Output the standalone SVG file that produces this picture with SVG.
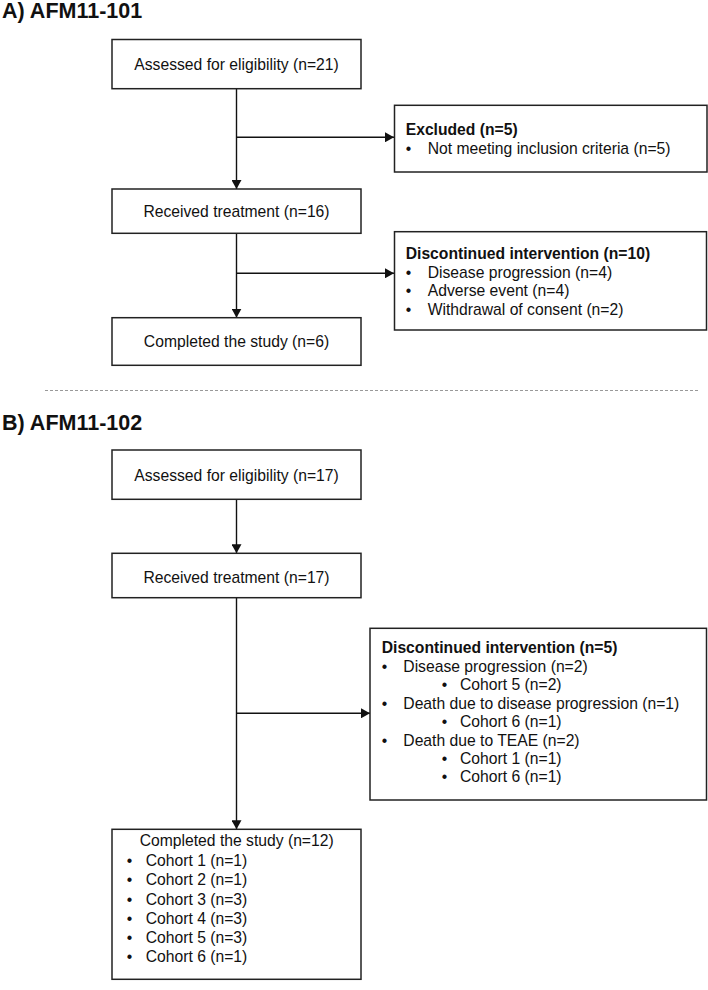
<svg xmlns="http://www.w3.org/2000/svg" width="708" height="990" viewBox="0 0 708 990">
<defs>
<marker id="ah" markerUnits="userSpaceOnUse" markerWidth="10" markerHeight="10" refX="9" refY="5" orient="auto">
<path d="M0,0 L9,5 L0,10 Z" fill="#111"/>
</marker>
<style>
.box{fill:#fff;stroke:#222;stroke-width:1.5}
.t{font-family:"Liberation Sans",Arial,sans-serif;font-size:15.7px;fill:#111}
.c{text-anchor:middle}
.b{font-weight:bold}
.h{font-family:"Liberation Sans",Arial,sans-serif;font-size:21.5px;font-weight:bold;fill:#111}
.ln{fill:none;stroke:#111;stroke-width:1.4}
</style>
</defs>
<rect width="708" height="990" fill="#fff"/>

<text class="h" x="2" y="17.7">A) AFM11-101</text>
<text class="h" x="2" y="430">B) AFM11-102</text>
<line x1="45" y1="390.5" x2="700" y2="390.5" stroke="#999" stroke-width="1" stroke-dasharray="3 2"/>

<g id="connectors">
<line class="ln" x1="236.5" y1="88.7" x2="236.5" y2="189" marker-end="url(#ah)"/>
<line class="ln" x1="236.5" y1="137.3" x2="394" y2="137.3" marker-end="url(#ah)"/>
<line class="ln" x1="236.5" y1="233.3" x2="236.5" y2="317.7" marker-end="url(#ah)"/>
<line class="ln" x1="236.5" y1="273.3" x2="394" y2="273.3" marker-end="url(#ah)"/>
<line class="ln" x1="236.5" y1="499.3" x2="236.5" y2="553.3" marker-end="url(#ah)"/>
<line class="ln" x1="236.5" y1="597.7" x2="236.5" y2="829.3" marker-end="url(#ah)"/>
<line class="ln" x1="236.5" y1="713.3" x2="370" y2="713.3" marker-end="url(#ah)"/>
</g>

<g id="a-assessed">
<rect class="box" x="112" y="39.5" width="249" height="49.2"/>
<text class="t c" x="236.5" y="70">Assessed for eligibility (n=21)</text>
</g>
<g id="a-excluded">
<rect class="box" x="394.5" y="105.3" width="312.5" height="66.7"/>
<text class="t b" x="405.7" y="135">Excluded (n=5)</text>
<text class="t" x="405.7" y="154">•</text>
<text class="t" x="427.7" y="154">Not meeting inclusion criteria (n=5)</text>
</g>
<g id="a-received">
<rect class="box" x="112" y="189" width="249" height="44.3"/>
<text class="t c" x="236.5" y="216.7">Received treatment (n=16)</text>
</g>
<g id="a-discontinued">
<rect class="box" x="394.5" y="231.7" width="312" height="98.3"/>
<text class="t b" x="405.7" y="259">Discontinued intervention (n=10)</text>
<text class="t" x="405.7" y="277.5">•</text>
<text class="t" x="427.7" y="277.5">Disease progression (n=4)</text>
<text class="t" x="405.7" y="296">•</text>
<text class="t" x="427.7" y="296">Adverse event (n=4)</text>
<text class="t" x="405.7" y="314.5">•</text>
<text class="t" x="427.7" y="314.5">Withdrawal of consent (n=2)</text>
</g>
<g id="a-completed">
<rect class="box" x="112" y="317.7" width="249" height="47.6"/>
<text class="t c" x="236.5" y="347.3">Completed the study (n=6)</text>
</g>

<g id="b-assessed">
<rect class="box" x="112" y="450" width="249" height="49.3"/>
<text class="t c" x="236.5" y="480.7">Assessed for eligibility (n=17)</text>
</g>
<g id="b-received">
<rect class="box" x="112" y="553.3" width="249" height="44.4"/>
<text class="t c" x="236.5" y="582.7">Received treatment (n=17)</text>
</g>
<g id="b-discontinued">
<rect class="box" x="370" y="628.3" width="336.5" height="171.7"/>
<text class="t b" x="381.7" y="653.3">Discontinued intervention (n=5)</text>
<text class="t" x="381.7" y="671.7">•</text>
<text class="t" x="403.3" y="671.7">Disease progression (n=2)</text>
<text class="t" x="441.7" y="690">•</text>
<text class="t" x="460" y="690">Cohort 5 (n=2)</text>
<text class="t" x="381.7" y="709">•</text>
<text class="t" x="403.3" y="709">Death due to disease progression (n=1)</text>
<text class="t" x="441.7" y="726.7">•</text>
<text class="t" x="460" y="726.7">Cohort 6 (n=1)</text>
<text class="t" x="381.7" y="745.7">•</text>
<text class="t" x="403.3" y="745.7">Death due to TEAE (n=2)</text>
<text class="t" x="441.7" y="763.7">•</text>
<text class="t" x="460" y="763.7">Cohort 1 (n=1)</text>
<text class="t" x="441.7" y="782.3">•</text>
<text class="t" x="460" y="782.3">Cohort 6 (n=1)</text>
</g>
<g id="b-completed">
<rect class="box" x="112" y="829.3" width="249" height="150"/>
<text class="t c" x="236.7" y="846">Completed the study (n=12)</text>
<text class="t" x="126.7" y="866">•</text>
<text class="t" x="145.7" y="866">Cohort 1 (n=1)</text>
<text class="t" x="126.7" y="885">•</text>
<text class="t" x="145.7" y="885">Cohort 2 (n=1)</text>
<text class="t" x="126.7" y="904.7">•</text>
<text class="t" x="145.7" y="904.7">Cohort 3 (n=3)</text>
<text class="t" x="126.7" y="923.7">•</text>
<text class="t" x="145.7" y="923.7">Cohort 4 (n=3)</text>
<text class="t" x="126.7" y="942.7">•</text>
<text class="t" x="145.7" y="942.7">Cohort 5 (n=3)</text>
<text class="t" x="126.7" y="961.7">•</text>
<text class="t" x="145.7" y="961.7">Cohort 6 (n=1)</text>
</g>
</svg>
